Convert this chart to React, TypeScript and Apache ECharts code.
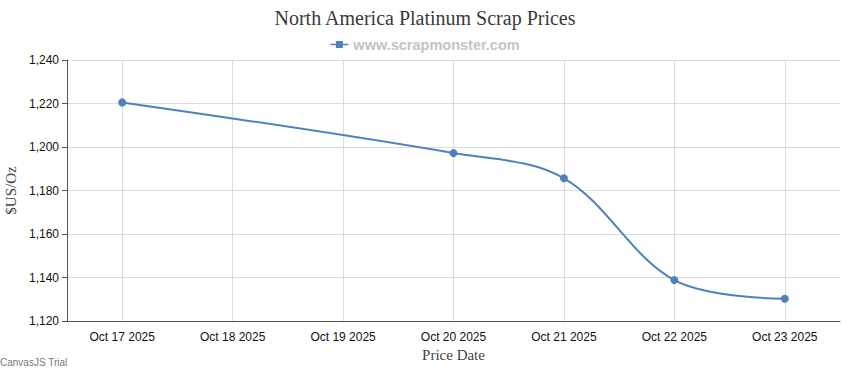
import React, { useEffect, useRef } from "react";
import * as echarts from "echarts";

const categories = ["Oct 17 2025", "Oct 18 2025", "Oct 19 2025", "Oct 20 2025", "Oct 21 2025", "Oct 22 2025", "Oct 23 2025"];
const priceDates = ["Oct 17 2025", "Oct 20 2025", "Oct 21 2025", "Oct 22 2025", "Oct 23 2025"];
const priceValues = [1220.5, 1197.2, 1185.6, 1138.8, 1130.2];
const seriesName = "www.scrapmonster.com";

export default function App() {
  const ref = useRef<HTMLDivElement>(null);
  useEffect(() => {
    if (!ref.current) return;
    const chart = echarts.init(ref.current, undefined, { renderer: "svg" });
    chart.setOption({
      animation: false,
      backgroundColor: "#ffffff",
      title: {
        text: "North America Platinum Scrap Prices",
        left: "center",
        top: 3,
        textStyle: { fontFamily: "Liberation Serif, serif", fontSize: 20, fontWeight: "normal", color: "#3a3a3a" },
      },
      legend: {
        top: 32,
        left: "center",
        itemWidth: 18,
        itemHeight: 8,
        itemGap: 4,
        data: [
          {
            name: seriesName,
            icon: "path://M0,3.3 L5.5,3.3 L5.5,0.5 L12.5,0.5 L12.5,3.3 L18,3.3 L18,4.7 L12.5,4.7 L12.5,7.5 L5.5,7.5 L5.5,4.7 L0,4.7 Z",
          },
        ],
        textStyle: { fontFamily: "Liberation Sans, Arial, sans-serif", fontSize: 14.5, fontWeight: "bold", color: "#c4c4c4" },
      },
      graphic: [
        {
          type: "text",
          left: 0,
          top: 357,
          style: { text: "CanvasJS Trial", fontFamily: "Liberation Sans, Arial, sans-serif", fontSize: 10, fill: "#777777" },
        },
      ],
      grid: { left: 67, right: 10, top: 60, bottom: 49, containLabel: false, outerBoundsMode: "none" },
      xAxis: {
        type: "category",
        data: categories,
        boundaryGap: true,
        name: "Price Date",
        nameLocation: "middle",
        nameGap: 26,
        nameTextStyle: { fontFamily: "Liberation Serif, serif", fontSize: 15, color: "#444444" },
        axisLine: { lineStyle: { color: "#555555", width: 1 } },
        axisTick: { alignWithLabel: true, length: 5, lineStyle: { color: "#555555" } },
        axisLabel: { fontFamily: "Liberation Sans, Arial, sans-serif", fontSize: 12, color: "#111111", margin: 10, interval: 0 },
        splitLine: { show: true, alignWithLabel: true, lineStyle: { color: "#dcdcdc", width: 1 } },
      },
      yAxis: {
        type: "value",
        min: 1120,
        max: 1240,
        interval: 20,
        name: "$US/Oz",
        nameLocation: "middle",
        nameGap: 43,
        nameRotate: 90,
        nameTextStyle: { fontFamily: "Liberation Serif, serif", fontSize: 15, color: "#444444" },
        axisLine: { show: true, lineStyle: { color: "#555555", width: 1 } },
        axisTick: { show: true, length: 5, lineStyle: { color: "#555555" } },
        axisLabel: {
          fontFamily: "Liberation Sans, Arial, sans-serif",
          fontSize: 12,
          color: "#111111",
          margin: 8,
          formatter: (v: number) => v.toLocaleString("en-US"),
        },
        splitLine: { show: true, lineStyle: { color: "#dcdcdc", width: 1 } },
      },
      series: [
        {
          name: seriesName,
          type: "line",
          smooth: 0.35,
          data: priceDates.map((d, i) => [d, priceValues[i]]),
          symbol: "circle",
          symbolSize: 8,
          itemStyle: { color: "#4f81bc" },
          lineStyle: { color: "#4f81bc", width: 2 },
        },
      ],
    });
    return () => chart.dispose();
  }, []);
  return <div ref={ref} style={{ position: "fixed", left: 0, top: 0, width: 850, height: 370 }} />;
}
